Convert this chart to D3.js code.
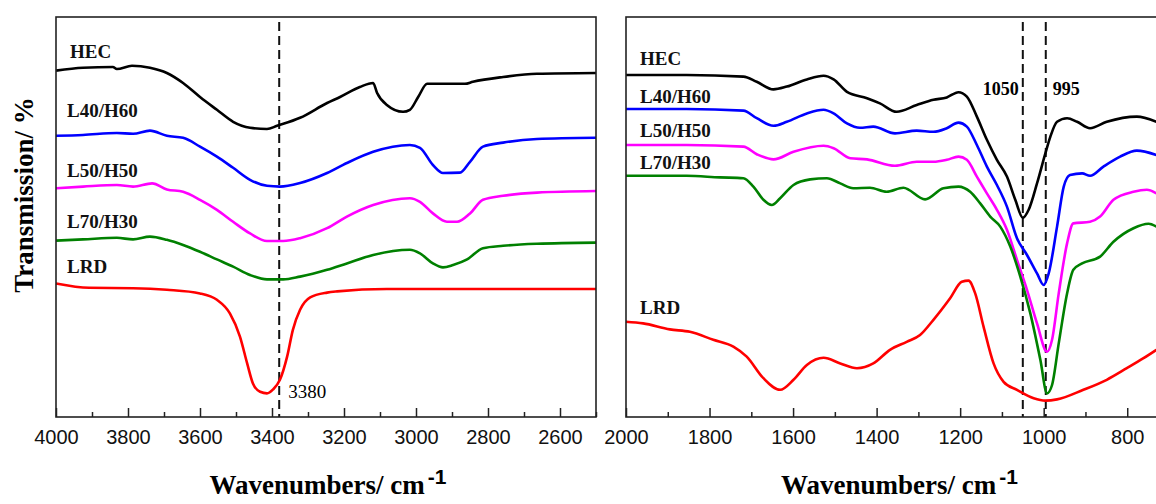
<!DOCTYPE html>
<html>
<head>
<meta charset="utf-8">
<script src="https://cdn.jsdelivr.net/npm/d3@7/dist/d3.min.js"></script>
<style>
	body { margin: 0; background: #fff; }
	svg text { font-family: "Liberation Serif", "Times New Roman", serif; }
	.axis .tick text { font-family: "Liberation Sans", Arial, sans-serif; font-size: 20px; fill: #111; }
	.axis .tick line { stroke: #222; stroke-width: 1.5; }
	.axis path.domain { display: none; }
	.frame { fill: none; stroke: #222; stroke-width: 1.6; }
	.curve { fill: none; stroke-width: 2.6; stroke-linejoin: round; }
	.mark { stroke: #111; stroke-width: 2; stroke-dasharray: 9, 5; }
	.seriesLabel { font-weight: bold; font-size: 19px; fill: #111; }
</style>
</head>
<body>
<div class="ftir"></div>
<script>

	/* ---------------------------------
		Data
	------------------------------------*/

	var seriesNames = ["HEC", "L40/H60", "L50/H50", "L70/H30", "LRD"];
	var seriesColors = ["#000000", "#0000ff", "#ff00ff", "#008000", "#ff0000"];

	// wavenumber (cm-1), transmission (a.u.) -- high wavenumber region
	var hecLeft = [[4000,86.6],[3925,87.3],[3842,87.5],[3831,87],[3789,87.8],[3739,87.3],[3692,86],[3647,83.5],[3600,80],[3553,76.8],[3508,73.8],[3461,72.3],[3414,72],[3386,72.8],[3322,74.8],[3247,78.5],[3211,80],[3156,82.5],[3119,83.5],[3108,81],[3081,78],[3036,76.3],[3017,76.8],[2994,80],[2969,83.3],[2864,83.3],[2842,83.8],[2758,85],[2664,85.8],[2500,86]];
	var l40Left = [[4000,70.3],[3925,70.5],[3831,71],[3786,70.8],[3739,71.6],[3692,70.3],[3647,69.8],[3600,67.6],[3553,65.1],[3508,62.3],[3461,59.3],[3414,57.8],[3378,57.6],[3322,58.5],[3247,61],[3192,63.5],[3119,66.3],[3017,68],[2989,67.3],[2953,63],[2925,61],[2878,61.1],[2850,63.8],[2814,67.6],[2758,68.6],[2664,69.5],[2500,69.8]];
	var l50Left = [[4000,57.2],[3925,57.6],[3831,58],[3786,57.6],[3733,58.4],[3692,56.9],[3647,56.3],[3600,54.3],[3553,51.8],[3508,48.8],[3461,45.9],[3414,44],[3369,44],[3322,44.7],[3247,47.2],[3192,50.1],[3119,53],[3017,54.7],[2989,53.8],[2953,50.9],[2914,48.8],[2886,48.8],[2850,50.9],[2814,54.3],[2758,55.3],[2664,56.1],[2500,56.5]];
	var l70Left = [[4000,44.1],[3925,44.4],[3831,44.8],[3786,44.4],[3739,45.1],[3692,44.3],[3647,43],[3600,41.3],[3553,39.4],[3508,37.6],[3461,35.5],[3414,34.4],[3369,34.4],[3322,35.1],[3247,36.8],[3192,38.4],[3119,40.5],[3017,41.8],[2989,40.9],[2953,38.4],[2925,37.4],[2897,38],[2858,39.4],[2814,42.2],[2758,42.8],[2664,43.3],[2500,43.6]];
	var lrdLeft = [[4000,33.4],[3908,32.3],[3786,32.2],[3692,31.8],[3600,30.9],[3553,29.3],[3517,25.9],[3489,20.1],[3469,13.4],[3453,8.4],[3433,6.3],[3414,5.9],[3397,6.9],[3378,9.3],[3358,15.1],[3342,21.8],[3322,26.8],[3294,29.9],[3247,31.1],[3219,31.4],[3081,32],[2500,32]];

	// low wavenumber region
	var hecRight = [[2000,85.5],[1855,85.5],[1719,85.1],[1687,83.8],[1647,81.9],[1615,82.6],[1567,84.4],[1527,85.3],[1503,84.4],[1471,81.3],[1423,79.7],[1392,78.4],[1352,76.3],[1304,78],[1264,79.3],[1232,79.9],[1204,81.2],[1184,80.1],[1160,75.1],[1136,69.3],[1112,64.3],[1088,60.1],[1068,54.3],[1050,49.8],[1036,51.8],[1016,58.4],[996,65.9],[984,70.1],[968,73.8],[944,74.7],[920,73.8],[889,72.2],[849,73.8],[777,75.1],[730,73.8]];
	var l40Right = [[2000,77],[1855,77],[1719,76.6],[1687,74.7],[1647,72.8],[1615,73.8],[1567,75.9],[1527,76.8],[1503,75.9],[1471,73.4],[1440,72.3],[1408,72.6],[1356,70.9],[1304,71.6],[1264,71.3],[1232,72.2],[1204,73.6],[1184,72.6],[1160,68],[1136,62.6],[1112,58],[1088,52.6],[1064,44.7],[1040,40.5],[1016,35.9],[1000,33],[988,35.9],[968,47.6],[952,57.6],[937,60.5],[908,60.9],[889,60.3],[857,62.6],[817,65.1],[777,66.6],[730,65.5]];
	var l50Right = [[2000,68],[1855,68],[1719,67.6],[1687,65.7],[1647,64.4],[1599,66.3],[1527,67.8],[1503,67.2],[1463,64.7],[1423,64.4],[1356,62.8],[1304,63.8],[1264,63.8],[1232,64.3],[1204,65.1],[1184,64.3],[1160,60.1],[1136,55.9],[1112,51.8],[1088,46.8],[1064,39.3],[1040,31.8],[1016,23.4],[992,16.3],[980,19.3],[964,30.9],[944,43.4],[929,48.4],[889,48.8],[865,50.1],[833,54.3],[785,56.3],[753,56.8],[730,55.9]];
	var l70Right = [[2000,60.3],[1855,60.3],[1775,59.9],[1719,59.7],[1695,57.6],[1671,54.3],[1651,53],[1631,54.7],[1599,58],[1559,59.4],[1519,59.7],[1487,58.4],[1456,57.2],[1416,57.3],[1376,56.3],[1336,57.3],[1284,54.4],[1240,57.2],[1204,57.6],[1176,56.3],[1152,53.4],[1128,50.1],[1104,47.6],[1080,42.6],[1056,35.1],[1032,25.9],[1008,14.3],[992,5.9],[980,8],[964,18.4],[944,30.9],[929,36.8],[908,38.4],[865,40.1],[833,43.8],[785,47.2],[749,48.3],[730,47.6]];
	var lrdRight = [[2000,23.8],[1959,23.4],[1895,21.9],[1847,21.3],[1791,19.3],[1743,17.6],[1711,15.1],[1671,9.7],[1631,6.8],[1599,9.3],[1567,13],[1527,14.8],[1487,13.4],[1447,12.2],[1408,13.4],[1368,16.8],[1328,18.8],[1296,20.5],[1264,24.3],[1224,29.7],[1196,33.8],[1180,34.1],[1164,30.9],[1144,22.6],[1120,13.4],[1096,8.8],[1064,6.8],[1024,4.7],[996,4.1],[968,4.4],[905,6.8],[849,9.3],[801,12.2],[761,14.7],[730,16.8]];

	// marked bands
	var marksLeft = [3380];
	var marksRight = [1050, 995];

	// ticks
	var ticksLeft = [4000, 3800, 3600, 3400, 3200, 3000, 2800, 2600];
	var minorLeft = [3900, 3700, 3500, 3300, 3100, 2900, 2700, 2500];
	var ticksRight = [2000, 1800, 1600, 1400, 1200, 1000, 800];
	var minorRight = [1900, 1700, 1500, 1300, 1100, 900, 700];


	/* ---------------------------------
		Setup
	------------------------------------*/

	var w = 1156;
	var h = 504;
	var plotTop = 17;
	var plotBottom = 417;

	var xLeft = d3.scaleLinear().domain([4000, 2500]).range([56, 596]);
	var xRight = d3.scaleLinear().domain([2000, 700]).range([626, 1169]);
	var yScale = d3.scaleLinear().domain([0, 100]).range([plotBottom, plotTop]);

	var svg = d3.select(".ftir")
				.append("svg")
				.attr("width", w)
				.attr("height", h);

	svg.append("rect")
		.attr("width", w)
		.attr("height", h)
		.attr("fill", "#fff");


	/* ---------------------------------
		Panels
	------------------------------------*/

	function drawPanel(xScale, seriesList, marks, ticks, minor) {

		var x0 = xScale.range()[0], x1 = xScale.range()[1];

		var line = d3.line()
			.x(function(d) { return xScale(d[0]); })
			.y(function(d) { return yScale(d[1]); })
			.curve(d3.curveMonotoneX);

		// minor ticks
		svg.append("g")
			.attr("class", "axis")
			.attr("transform", "translate(0," + plotBottom + ")")
			.call(d3.axisBottom(xScale).tickValues(minor).tickSize(-5).tickFormat(""));

		// major ticks with labels
		svg.append("g")
			.attr("class", "axis")
			.attr("transform", "translate(0," + plotBottom + ")")
			.call(d3.axisBottom(xScale).tickValues(ticks).tickSize(-9).tickPadding(13).tickFormat(d3.format("d")));

		// dashed marker lines
		svg.selectAll(null)
			.data(marks)
			.enter()
			.append("line")
			.attr("class", "mark")
			.attr("x1", function(d) { return xScale(d); })
			.attr("x2", function(d) { return xScale(d); })
			.attr("y1", 22)
			.attr("y2", plotBottom);

		// spectra
		seriesList.forEach(function(s, i) {
			svg.append("path")
				.datum(s)
				.attr("class", "curve")
				.attr("stroke", seriesColors[i])
				.attr("d", line);
		});

		svg.append("rect")
			.attr("class", "frame")
			.attr("x", x0)
			.attr("y", plotTop)
			.attr("width", x1 - x0)
			.attr("height", plotBottom - plotTop);
	}

	drawPanel(xLeft, [hecLeft, l40Left, l50Left, l70Left, lrdLeft], marksLeft, ticksLeft, minorLeft);
	drawPanel(xRight, [hecRight, l40Right, l50Right, l70Right, lrdRight], marksRight, ticksRight, minorRight);


	/* ---------------------------------
		Text
	------------------------------------*/

	// series labels (x, baseline)
	var leftLabelPos = [[70, 58], [67, 117], [67, 177], [67, 228], [67, 273]];
	var rightLabelPos = [[640, 65], [640, 103], [640, 137], [640, 169], [640, 314]];

	seriesNames.forEach(function(name, i) {
		svg.append("text").attr("class", "seriesLabel")
			.attr("x", leftLabelPos[i][0]).attr("y", leftLabelPos[i][1])
			.text(name);
		svg.append("text").attr("class", "seriesLabel")
			.attr("x", rightLabelPos[i][0]).attr("y", rightLabelPos[i][1])
			.text(name);
	});

	// band annotations
	svg.append("text")
		.attr("x", xLeft(marksLeft[0]) + 9)
		.attr("y", 398)
		.style("font-size", "19px")
		.text(marksLeft[0]);

	svg.append("text")
		.attr("x", xRight(marksRight[0]) - 4)
		.attr("y", 95)
		.attr("text-anchor", "end")
		.style("font-size", "18px")
		.style("font-weight", "bold")
		.text(marksRight[0]);

	svg.append("text")
		.attr("x", xRight(marksRight[1]) + 7)
		.attr("y", 95)
		.style("font-size", "18px")
		.style("font-weight", "bold")
		.text(marksRight[1]);

	// axis titles
	[xLeft, xRight].forEach(function(sc) {
		var cx = (sc.range()[0] + sc.range()[1]) / 2 + 2;
		var t = svg.append("text")
			.attr("x", cx)
			.attr("y", 494)
			.attr("text-anchor", "middle")
			.style("font-size", "27px")
			.style("font-weight", "bold");
		t.append("tspan").text("Wavenumbers/ cm");
		t.append("tspan")
			.attr("dx", 3)
			.attr("dy", -10)
			.style("font-family", "'Liberation Sans', Arial, sans-serif")
			.style("font-size", "21px")
			.text("-1");
	});

	svg.append("text")
		.attr("transform", "translate(33,195) rotate(-90)")
		.attr("text-anchor", "middle")
		.style("font-size", "27px")
		.style("font-weight", "bold")
		.text("Transmission/ %");

</script>
</body>
</html>
